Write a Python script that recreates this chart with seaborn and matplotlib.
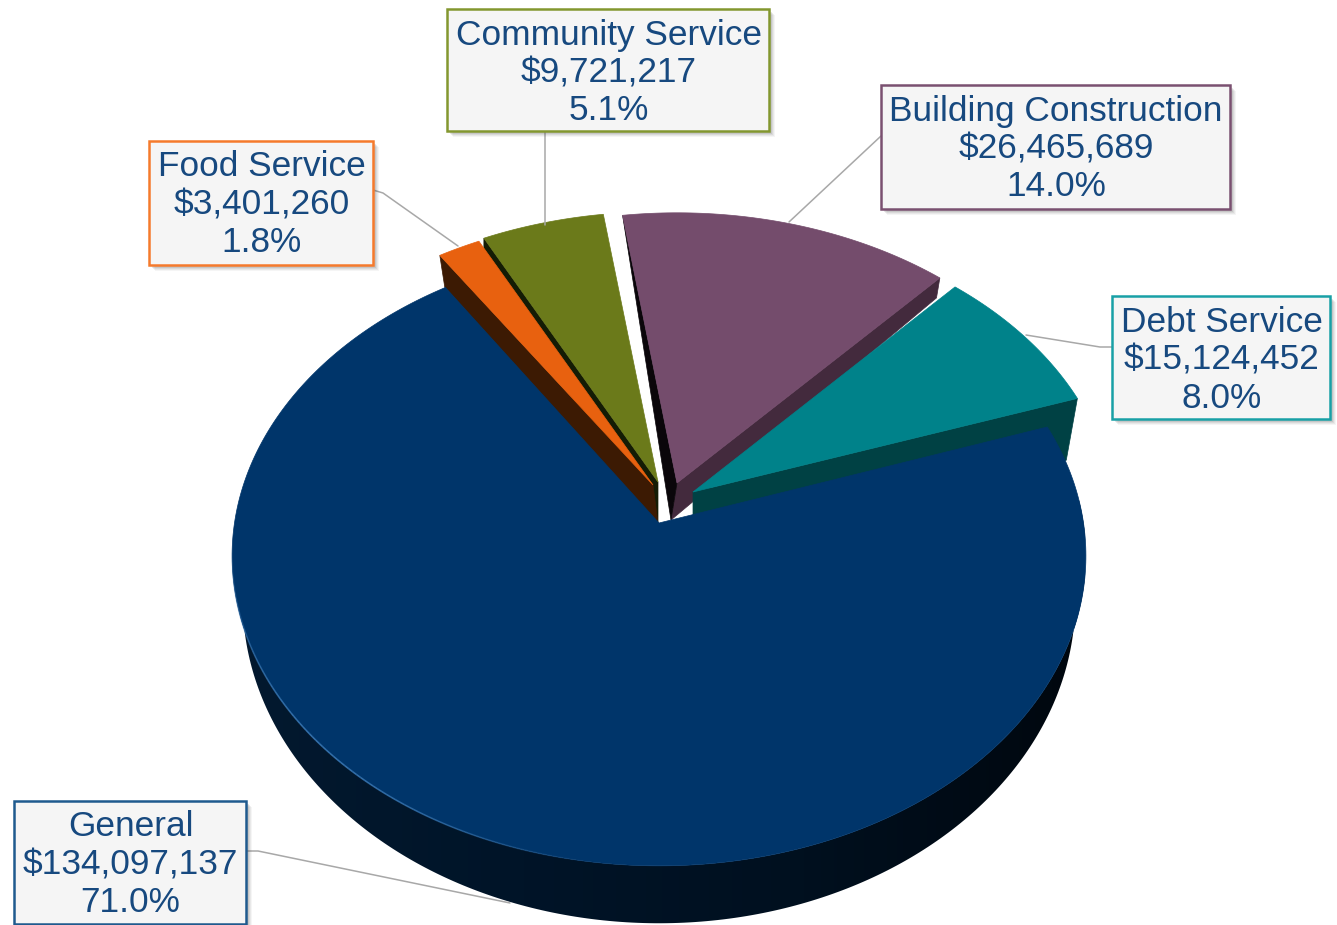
import numpy as np
import pandas as pd
import matplotlib
matplotlib.use('Agg')
import matplotlib.pyplot as plt
from matplotlib.colors import LinearSegmentedColormap
from matplotlib.patches import Polygon, Rectangle
import seaborn as sns

# Data (clockwise from the top)
funds = ['Building Construction', 'Debt Service', 'General', 'Food Service', 'Community Service']
amounts = [26465689, 15124452, 134097137, 3401260, 9721217]

top_colors = ['#744c6c', '#00828a', '#00356a', '#e8610f', '#6b7a1a']
box_colors = ['#7a5070', '#18a0a6', '#1f5a8e', '#f57a2c', '#83972f']
TEXT_COLOR = '#17497f'
LEADER_COLOR = '#a8a8a8'

sns.set_theme(style='white')
plt.rcParams['font.family'] = ['Liberation Sans', 'DejaVu Sans']

df = pd.DataFrame({'fund': funds, 'amount': amounts, 'top': top_colors, 'box': box_colors})
df['share'] = df['amount'] / df['amount'].sum()
df['sweep'] = df['share'] * 360

START = 98.2  # where the first slice starts, degrees
df['a0'] = START - df['sweep'].cumsum().shift(fill_value=0)
df['a1'] = df['a0'] - df['sweep']
df = df.set_index('fund')

# Perspective of the disc, in pixels
CX, CY = 659, 523
RX, RY, K = 424.5, 306.5, 0.106


def rim(angles, xscale=1.0, yscale=1.0):
    t = np.radians(angles)
    w = 1 + K * np.sin(t)
    return RX * np.cos(t) / w * xscale, -RY * np.sin(t) / w * yscale


# apex x/y, wall depth at apex, depth change per px of y, wall x shift, wall x scale, rim scales, colours of cut faces
layout = {
    'Building Construction': dict(ax=677, ay=483, d=37, b=0.083, dx=-6, sx=1.01, xs=0.993, ys=0.975, cw='#432a3d', ccw='#0a060a'),
    'Community Service': dict(ax=658, ay=482, d=41, b=0.04, dx=0, sx=1.0, xs=0.998, ys=0.975, cw=None, ccw='#141c05'),
    'Debt Service': dict(ax=693, ay=492, d=23, b=-0.415, dx=0, sx=0.971, xs=0.99, ys=0.975, cw='#004144', ccw=None),
    'Food Service': dict(ax=653, ay=485, d=38, b=0.026, dx=5, sx=1.0, xs=0.998, ys=0.975, cw=None, ccw='#3c1a03'),
}

boxes = {
    'Community Service': (447, 9, 769, 131),
    'Food Service': (149, 141, 373, 265),
    'Building Construction': (881, 85, 1230, 209),
    'Debt Service': (1112, 296, 1330, 419),
    'General': (14, 801, 246, 924),
}
leaders = {
    'Community Service': [(545, 131), (545, 225)],
    'Food Service': [(373, 190), (383, 193), (458, 246)],
    'Building Construction': [(881, 136), (789, 222)],
    'Debt Service': [(1112, 347), (1100, 347), (1026, 335)],
    'General': [(246, 851), (258, 851), (510, 903)],
}

fig = plt.figure(figsize=(13.37, 9.25), dpi=100, facecolor='white')
ax = fig.add_axes([0, 0, 1, 1])
ax.axis('off')


def draw_slice(name):
    row, s = df.loc[name], layout[name]
    angles = np.linspace(row['a0'], row['a1'], 60)
    x, y = rim(angles, s['xs'], s['ys'])
    x, y = x + s['ax'], y + s['ay']

    def low(px, py):
        return s['ax'] + s['dx'] + (px - s['ax']) * s['sx'], py + s['d'] + s['b'] * (py - s['ay'])

    bx, by = low(s['ax'], s['ay'])
    if s['cw']:
        ex, ey = low(x[-1], y[-1])
        ax.fill([x[-1], s['ax'], bx, ex], [y[-1], s['ay'], by, ey], color=s['cw'], lw=0.5)
    if s['ccw']:
        if name == 'Building Construction':
            ax.fill([x[0], s['ax'], bx], [y[0], s['ay'], by], color=s['ccw'], lw=0.5)
        else:
            ex, ey = low(x[0], y[0])
            ax.fill([x[0], s['ax'], bx, ex], [y[0], s['ay'], by, ey], color=s['ccw'], lw=0.5)
    ax.fill(np.r_[s['ax'], x], np.r_[s['ay'], y], color=row['top'], lw=0.5)


for name in ['Building Construction', 'Community Service', 'Debt Service', 'Food Service']:
    draw_slice(name)

# General slice: shaded wall, then the top
row = df.loc['General']
angles = np.linspace(row['a0'], row['a1'], 361)
gx, gy = rim(angles)
gx, gy = gx + CX, gy + CY
lx = CX + (gx - CX) * 0.975
ly = gy + 43.7 + 0.04 * (gy - CY)

wall_cmap = LinearSegmentedColormap.from_list('wall', ['#03192f', '#001428', '#00101f', '#00070e'])
wall = ax.imshow(np.linspace(0, 1, 256)[None, :], cmap=wall_cmap, extent=(240, 1085, 930, 500),
                 aspect='auto', zorder=2)
wall.set_clip_path(Polygon(np.c_[np.r_[gx, lx[::-1]], np.r_[gy, ly[::-1]]], transform=ax.transData))
ax.fill(np.r_[CX, gx], np.r_[CY, gy], color=row['top'], lw=0.5, zorder=3)

# thin light edge on the lower left of the rim
for i in range(len(angles) - 1):
    a = angles[i] % 360
    if 185 < a < 262:
        alpha = 0.75 * np.sin(np.pi * (a - 185) / 77)
        ax.plot(gx[i:i + 2], gy[i:i + 2], color='#3f7fbd', lw=1.2, alpha=alpha, solid_capstyle='butt', zorder=4)

# Labels
for name, pts in leaders.items():
    ax.plot(*zip(*pts), color=LEADER_COLOR, lw=1.1, zorder=5)

for name, (x0, y0, x1, y1) in boxes.items():
    row = df.loc[name]
    for off, alpha in [(6, 0.06), (5, 0.08), (4, 0.1), (3, 0.14)]:
        ax.add_patch(Rectangle((x0 + off, y0 + off), x1 - x0, y1 - y0, color='#555555', alpha=alpha, lw=0, zorder=6))
    ax.add_patch(Rectangle((x0, y0), x1 - x0, y1 - y0, facecolor='#f5f5f5', edgecolor=row['box'], lw=1.8, zorder=7))
    lines = [name, f"${row['amount']:,.0f}", f"{row['share'] * 100:.1f}%"]
    xc = (x0 + x1) / 2 + 0.5
    for j, line in enumerate(lines):
        ax.text(xc, y0 + 26 + j * 38, line, ha='center', va='center', fontsize=25.4, color=TEXT_COLOR, zorder=8)

ax.set_xlim(0, 1337)
ax.set_ylim(925, 0)
fig.savefig('out.png', dpi=100)
